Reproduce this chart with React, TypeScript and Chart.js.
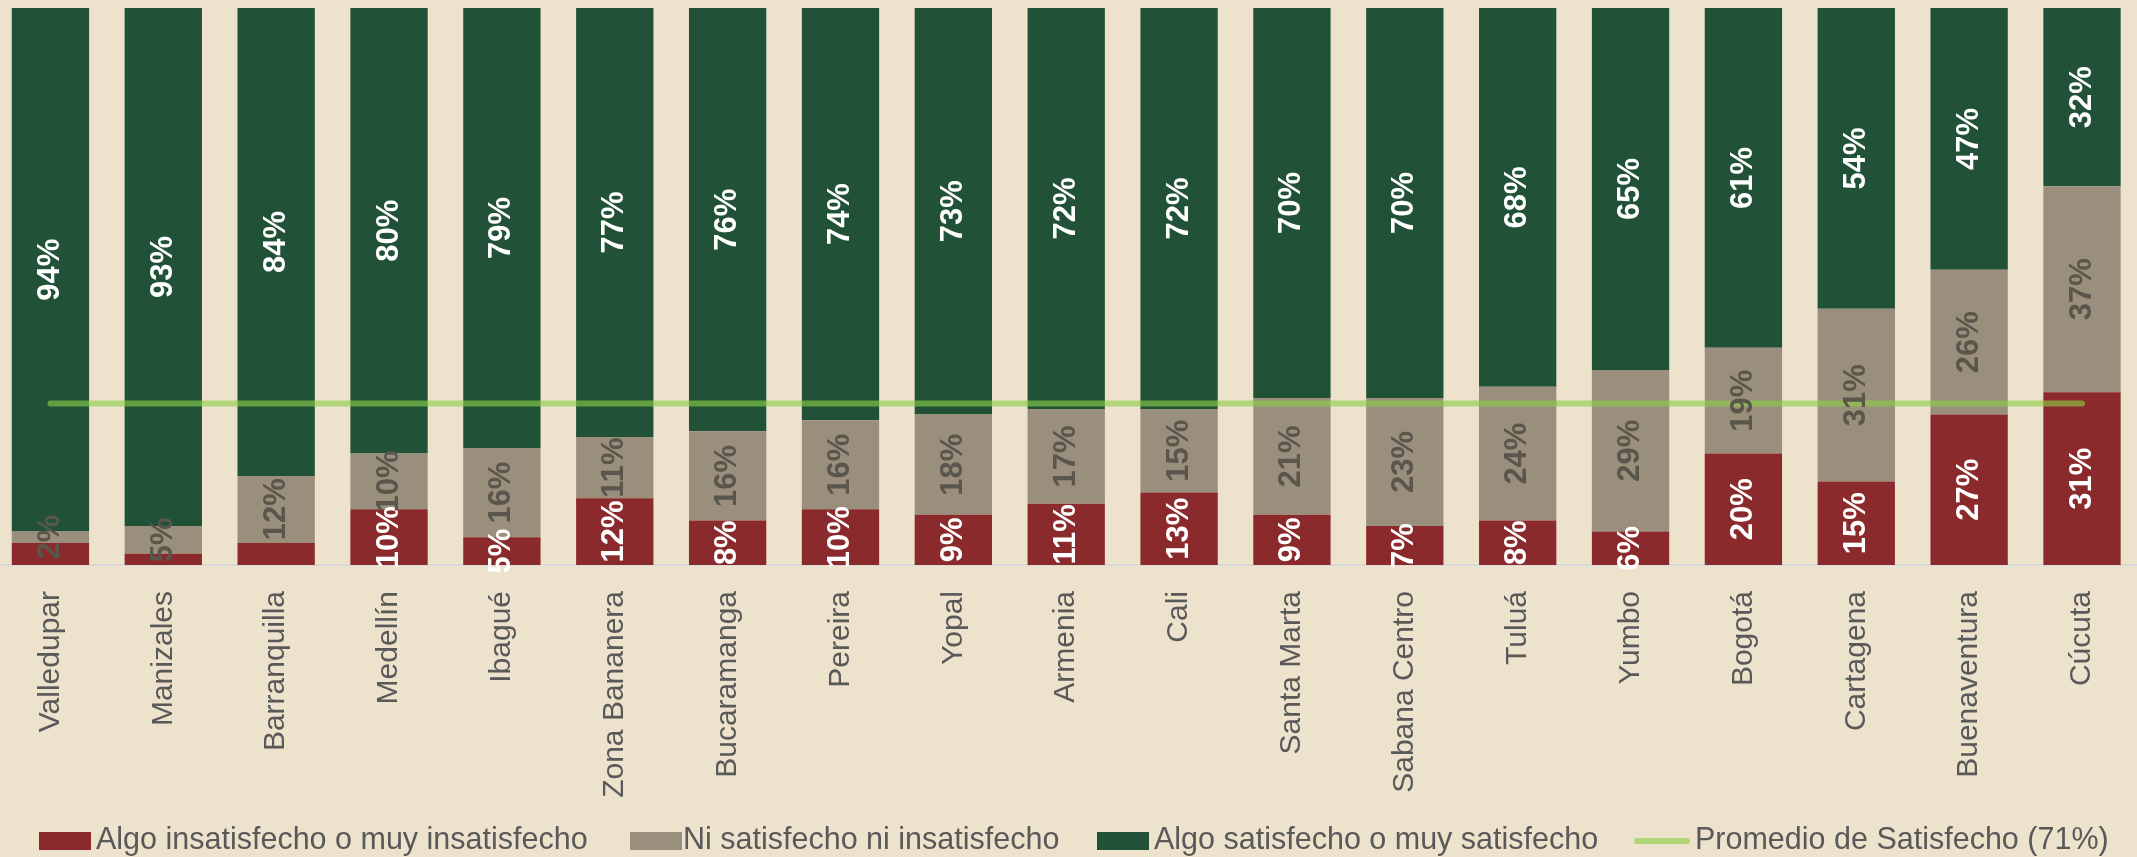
import React, { useEffect, useRef } from "react";
import { Chart, registerables } from "chart.js";

Chart.register(...registerables);

const categories = [
  "Valledupar", "Manizales", "Barranquilla", "Medellín", "Ibagué", "Zona Bananera",
  "Bucaramanga", "Pereira", "Yopal", "Armenia", "Cali", "Santa Marta", "Sabana Centro",
  "Tuluá", "Yumbo", "Bogotá", "Cartagena", "Buenaventura", "Cúcuta",
];
const insatisfecho = [4, 2, 4, 10, 5, 12, 8, 10, 9, 11, 13, 9, 7, 8, 6, 20, 15, 27, 31];
const neutral = [2, 5, 12, 10, 16, 11, 16, 16, 18, 17, 15, 21, 23, 24, 29, 19, 31, 26, 37];
const satisfecho = [94, 93, 84, 80, 79, 77, 76, 74, 73, 72, 72, 70, 70, 68, 65, 61, 54, 47, 32];
const promedioSatisfecho = 71;

const seriesNames = [
  "Algo insatisfecho o muy insatisfecho",
  "Ni satisfecho ni insatisfecho",
  "Algo satisfecho o muy satisfecho",
];
const lineName = `Promedio de Satisfecho (${promedioSatisfecho}%)`;

const RED = "#8b2a2c";
const TAN = "#9a8f7d";
const GREEN = "#215238";
const LINE = "rgba(138, 206, 70, 0.62)";
const BG = "#ede2cc";
const TEXT = "#595959";
const FONT = "'Liberation Sans', Arial, sans-serif";

const labelColors = ["#ffffff", "#5a564c", "#ffffff"];
const minLabelValue = [5, 0, 0];

const barLabelPlugin = {
  id: "barLabels",
  afterDatasetsDraw(chart: any) {
    const ctx = chart.ctx;
    chart.data.datasets.forEach((ds: any, i: number) => {
      if (ds.type === "line") return;
      const meta = chart.getDatasetMeta(i);
      meta.data.forEach((el: any, j: number) => {
        const v = ds.data[j];
        if (v < minLabelValue[i]) return;
        const p = el.getProps(["x", "y", "base"], true);
        ctx.save();
        ctx.translate(p.x, (p.y + p.base) / 2);
        ctx.rotate(-Math.PI / 2);
        ctx.font = `bold 31px ${FONT}`;
        ctx.fillStyle = labelColors[i];
        ctx.textAlign = "center";
        ctx.textBaseline = "middle";
        ctx.fillText(`${v}%`, 0, 0);
        ctx.restore();
      });
    });
  },
};

export default function App() {
  const ref = useRef<HTMLCanvasElement | null>(null);

  useEffect(() => {
    if (!ref.current) return;
    const chart = new Chart(ref.current, {
      type: "bar",
      data: {
        labels: categories,
        datasets: [
          {
            label: seriesNames[0],
            data: insatisfecho,
            backgroundColor: RED,
            order: 1,
          },
          {
            label: seriesNames[1],
            data: neutral,
            backgroundColor: TAN,
            order: 1,
          },
          {
            label: seriesNames[2],
            data: satisfecho,
            backgroundColor: GREEN,
            order: 1,
          },
          {
            type: "line",
            label: lineName,
            data: categories.map(() => 100 - promedioSatisfecho),
            borderColor: LINE,
            borderWidth: 6,
            borderCapStyle: "round",
            pointRadius: 0,
            fill: false,
            order: 0,
          } as any,
        ],
      },
      options: {
        animation: false,
        responsive: false,
        devicePixelRatio: 1,
        datasets: { bar: { barPercentage: 0.685, categoryPercentage: 1, borderWidth: 0 } },
        layout: { padding: { top: 8, left: 0, right: 0, bottom: 0 } },
        plugins: { legend: { display: false }, tooltip: { enabled: false } },
        scales: {
          x: {
            stacked: true,
            offset: true,
            grid: { display: false, drawTicks: false, tickLength: 0 },
            border: { display: true, color: "#d9d9d9", width: 2 },
            ticks: {
              color: TEXT,
              font: { family: FONT, size: 30 },
              minRotation: 90,
              maxRotation: 90,
              autoSkip: false,
              padding: 26,
            },
            afterFit: (s: any) => {
              s.height = 857 - 565;
            },
          },
          y: { stacked: true, min: 0, max: 100, display: false },
        },
      },
      plugins: [barLabelPlugin],
    } as any);
    return () => chart.destroy();
  }, []);

  const legendText: React.CSSProperties = {
    position: "absolute",
    top: 821,
    lineHeight: "35px",
    fontSize: "30.5px",
    fontFamily: FONT,
    color: TEXT,
    whiteSpace: "nowrap",
  };
  const box = (left: number, color: string): React.CSSProperties => ({
    position: "absolute",
    left,
    top: 832,
    width: 52,
    height: 18,
    background: color,
  });

  return (
    <div
      style={{
        position: "absolute",
        left: 0,
        top: 0,
        width: 2137,
        height: 857,
        overflow: "hidden",
        background: BG,
      }}
    >
      <canvas
        ref={ref}
        width={2150}
        height={857}
        style={{ position: "absolute", left: -6, top: 0, width: 2150, height: 857 }}
      />
      <div style={box(39, RED)} />
      <span style={{ ...legendText, left: 96 }}>{seriesNames[0]}</span>
      <div style={box(630, TAN)} />
      <span style={{ ...legendText, left: 683 }}>{seriesNames[1]}</span>
      <div style={box(1097, GREEN)} />
      <span style={{ ...legendText, left: 1154 }}>{seriesNames[2]}</span>
      <div
        style={{
          position: "absolute",
          left: 1634,
          top: 838,
          width: 56,
          height: 6,
          borderRadius: 3,
          background: LINE,
        }}
      />
      <span style={{ ...legendText, left: 1695 }}>{lineName}</span>
    </div>
  );
}
